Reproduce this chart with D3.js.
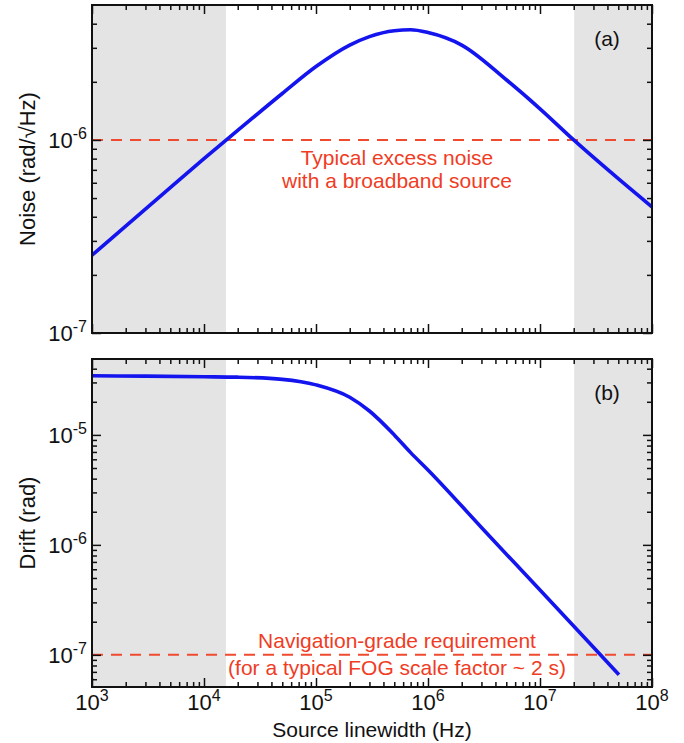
<!DOCTYPE html>
<html><head><meta charset="utf-8">
<script src="https://cdn.jsdelivr.net/npm/d3@7"></script>
<style>
body{margin:0;background:#fff}
svg{display:block}
text{font-family:"Liberation Sans",Arial,Helvetica,sans-serif}
</style>
</head><body>
<svg id="c" width="684" height="743"></svg>
<script>
// ---- data ----
const noiseHz   = [1e3, 2e3, 5e3, 1e4, 2e4, 5e4, 1e5, 2e5, 3e5, 5e5, 7e5, 1e6, 2e6, 5e6, 1e7, 2e7, 5e7, 1e8];
const noiseVal  = [2.53e-7, 3.58e-7, 5.66e-7, 8.0e-7, 1.12e-6, 1.74e-6, 2.4e-6, 3.1e-6, 3.43e-6, 3.68e-6, 3.72e-6, 3.6e-6, 3.1e-6, 2.05e-6, 1.45e-6, 1.0e-6, 6.3e-7, 4.5e-7];
const driftHz   = [1e3, 3e3, 1e4, 2e4, 5e4, 1e5, 2e5, 3e5, 5e5, 7e5, 1e6, 3e6, 1e7, 3e7, 5.07e7];
const driftVal  = [3.45e-5, 3.42e-5, 3.38e-5, 3.35e-5, 3.2e-5, 2.85e-5, 2.2e-5, 1.65e-5, 1.0e-5, 6.9e-6, 4.8e-6, 1.44e-6, 3.88e-7, 1.17e-7, 6.6e-8];
const shadeBands = [[1e3, 1.57e4], [2.02e7, 1e8]];
const noiseRef = 1e-6;
const driftRef = 1e-7;
const xTickExp  = [3, 4, 5, 6, 7, 8];
const yTickExpA = [-7, -6];
const yTickExpB = [-7, -6, -5];
const noiseNote = ["Typical excess noise", "with a broadband source"];
const driftNote = ["Navigation-grade requirement", "(for a typical FOG scale factor ~ 2 s)"];

// ---- layout ----
const L = 92, R = 652;
const panels = [
  {top: 5,   bottom: 333, domain: [1e-7, 5.0e-6], exps: yTickExpA, hz: noiseHz, val: noiseVal, ref: noiseRef,
   title: "Noise (rad/\u221AHz)", tag: "(a)", note: noiseNote, noteY: [165, 188], showX: false},
  {top: 359, bottom: 687, domain: [5.1e-8, 4.9e-5], exps: yTickExpB, hz: driftHz, val: driftVal, ref: driftRef,
   title: "Drift (rad)", tag: "(b)", note: driftNote, noteY: [648, 675], showX: true}
];

const svg = d3.select("#c");
const x = d3.scaleLog().domain([1e3, 1e8]).range([L, R]);

function minorTicks(lo, hi) {
  const out = [];
  for (let e = Math.floor(Math.log10(lo)) - 1; e <= Math.ceil(Math.log10(hi)); e++) {
    for (let m = 2; m <= 9; m++) {
      const v = m * Math.pow(10, e);
      if (v > lo * 1.0001 && v < hi * 0.9999) out.push(v);
    }
  }
  return out;
}
const xMajor = xTickExp.map(e => Math.pow(10, e));
const xMinor = minorTicks(1e3, 1e8);
const MAJ = 9, MIN = 5;

panels.forEach(p => {
  const y = d3.scaleLog().domain(p.domain).range([p.bottom, p.top]);
  const g = svg.append("g");
  const h = p.bottom - p.top;

  g.selectAll("rect.band").data(shadeBands).join("rect")
    .attr("x", d => x(d[0])).attr("width", d => x(d[1]) - x(d[0]))
    .attr("y", p.top).attr("height", h).attr("fill", "#e4e4e4");

  g.append("line").attr("x1", L).attr("x2", R).attr("y1", y(p.ref)).attr("y2", y(p.ref))
    .attr("stroke", "#f04a30").attr("stroke-width", 2).attr("stroke-dasharray", "11,8");

  const line = d3.line().x(d => x(d[0])).y(d => y(d[1])).curve(d3.curveMonotoneX);
  g.append("path").datum(p.hz.map((v, i) => [v, p.val[i]]))
    .attr("d", line).attr("fill", "none").attr("stroke", "#1414ee").attr("stroke-width", 3.6)
    .attr("stroke-linejoin", "round");

  const yMajor = p.exps.map(e => Math.pow(10, e)).filter(v => v >= p.domain[0] * 0.999 && v <= p.domain[1]);
  const yMinor = minorTicks(p.domain[0], p.domain[1]);
  const tickStyle = sel => { sel.select(".domain").remove(); sel.selectAll("line").attr("stroke", "#111").attr("stroke-width", 1.5); sel.selectAll("text").remove(); };
  [[xMajor, MAJ], [xMinor, MIN]].forEach(([vals, len]) => {
    g.append("g").attr("transform", `translate(0,${p.bottom})`)
      .call(d3.axisBottom(x).tickValues(vals).tickSize(-len).tickFormat("")).call(tickStyle);
    g.append("g").attr("transform", `translate(0,${p.top})`)
      .call(d3.axisTop(x).tickValues(vals).tickSize(-len).tickFormat("")).call(tickStyle);
  });
  [[yMajor, MAJ], [yMinor, MIN]].forEach(([vals, len]) => {
    g.append("g").attr("transform", `translate(${L},0)`)
      .call(d3.axisLeft(y).tickValues(vals).tickSize(-len).tickFormat("")).call(tickStyle);
    g.append("g").attr("transform", `translate(${R},0)`)
      .call(d3.axisRight(y).tickValues(vals).tickSize(-len).tickFormat("")).call(tickStyle);
  });

  g.append("rect").attr("x", L).attr("y", p.top).attr("width", R - L).attr("height", h)
    .attr("fill", "none").attr("stroke", "#111").attr("stroke-width", 2);

  p.exps.forEach(e => {
    const v = Math.pow(10, e);
    const t = g.append("text").attr("x", 87).attr("y", y(v) + 8).attr("text-anchor", "end")
      .attr("font-size", 22).attr("fill", "#111");
    t.append("tspan").text("10");
    t.append("tspan").attr("dy", -9).attr("font-size", 16).text(String(e));
  });

  g.append("text").attr("transform", `translate(35,${(p.top + p.bottom) / 2}) rotate(-90)`)
    .attr("text-anchor", "middle").attr("font-size", 22).attr("fill", "#111").text(p.title);

  g.append("text").attr("x", 607).attr("y", p.top + 41).attr("text-anchor", "middle")
    .attr("font-size", 21).attr("fill", "#111").text(p.tag);

  p.note.forEach((s, i) => {
    g.append("text").attr("x", 397).attr("y", p.noteY[i]).attr("text-anchor", "middle")
      .attr("font-size", 21).attr("fill", "#f03c24").text(s);
  });

  if (p.showX) {
    xTickExp.forEach(e => {
      const t = g.append("text").attr("x", x(Math.pow(10, e))).attr("y", 710).attr("text-anchor", "middle")
        .attr("font-size", 22).attr("fill", "#111");
      t.append("tspan").text("10");
      t.append("tspan").attr("dy", -9).attr("font-size", 16).text(String(e));
    });
    g.append("text").attr("x", (L + R) / 2).attr("y", 737).attr("text-anchor", "middle")
      .attr("font-size", 21).attr("fill", "#111").text("Source linewidth (Hz)");
  }
});
</script>
</body></html>
